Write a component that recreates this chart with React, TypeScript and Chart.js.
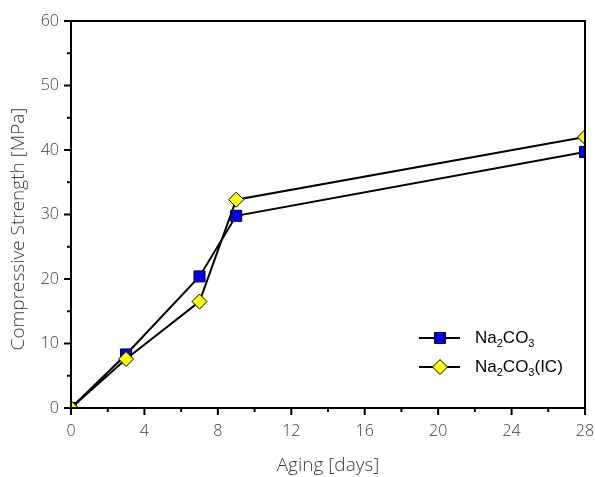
import React, { useEffect, useRef } from "react";
import { Chart, registerables } from "chart.js";

Chart.register(...registerables);

const days = [0, 3, 7, 9, 28];
const na2co3 = [0, 8.3, 20.4, 29.8, 39.7];
const na2co3IC = [0, 7.6, 16.5, 32.3, 42.0];
const xTicks = [0, 4, 8, 12, 16, 20, 24, 28];
const yTicks = [0, 10, 20, 30, 40, 50, 60];
const seriesNames = ["Na2CO3", "Na2CO3(IC)"];
const xTitle = "Aging [days]";
const yTitle = "Compressive Strength [MPa]";

const GRAY = "#3c3c3c";
const TICK_FONT = "'Open Sans', 'DejaVu Sans', sans-serif";

const framePlugin = {
  id: "frame",
  afterDraw(chart: any) {
    const { ctx, chartArea } = chart;
    const { left, right, top, bottom } = chartArea;
    const xs = chart.scales.x;
    const ys = chart.scales.y;
    ctx.save();
    ctx.strokeStyle = "#000";
    ctx.lineWidth = 2;
    ctx.beginPath();
    ctx.rect(left, top, right - left, bottom - top);
    ctx.stroke();
    for (let v = 0; v <= 28; v += 2) {
      const px = xs.getPixelForValue(v);
      const len = v % 4 === 0 ? 7 : 4;
      ctx.beginPath();
      ctx.moveTo(px, bottom);
      ctx.lineTo(px, bottom + len);
      ctx.stroke();
    }
    for (let v = 0; v <= 60; v += 5) {
      const py = ys.getPixelForValue(v);
      const len = v % 10 === 0 ? 7 : 4;
      ctx.beginPath();
      ctx.moveTo(left, py);
      ctx.lineTo(left - len, py);
      ctx.stroke();
    }
    ctx.fillStyle = GRAY;
    ctx.font = "300 19px " + TICK_FONT;
    ctx.textAlign = "center";
    ctx.textBaseline = "middle";
    ctx.fillText(xTitle, (left + right) / 2, 466);
    ctx.translate(19, 229);
    ctx.rotate(-Math.PI / 2);
    ctx.fillText(yTitle, 0, 0);
    ctx.restore();
  },
};

function drawChem(ctx: CanvasRenderingContext2D, x: number, y: number, parts: [string, boolean][]) {
  let cx = x;
  for (const [t, sub] of parts) {
    ctx.font = sub ? "11px 'Liberation Sans', Arial, sans-serif" : "17px 'Liberation Sans', Arial, sans-serif";
    ctx.fillText(t, cx, sub ? y + 6 : y);
    cx += ctx.measureText(t).width;
  }
}

const legendPlugin = {
  id: "customLegend",
  afterDraw(chart: any) {
    const { ctx } = chart;
    ctx.save();
    const rows = [
      { y: 338, ds: chart.data.datasets[0], parts: [["Na", false], ["2", true], ["CO", false], ["3", true]] },
      { y: 367, ds: chart.data.datasets[1], parts: [["Na", false], ["2", true], ["CO", false], ["3", true], ["(IC)", false]] },
    ];
    for (const r of rows) {
      ctx.strokeStyle = "#000";
      ctx.lineWidth = 2;
      ctx.beginPath();
      ctx.moveTo(419, r.y);
      ctx.lineTo(460, r.y);
      ctx.stroke();
      ctx.fillStyle = r.ds.pointBackgroundColor;
      ctx.strokeStyle = "#000";
      ctx.lineWidth = 1;
      if (r.ds.pointStyle === "rect") {
        ctx.beginPath();
        ctx.rect(440 - 5.5, r.y - 5.5, 11, 11);
        ctx.fill();
        ctx.stroke();
      } else {
        ctx.beginPath();
        ctx.moveTo(440, r.y - 7.5);
        ctx.lineTo(447.5, r.y);
        ctx.lineTo(440, r.y + 7.5);
        ctx.lineTo(432.5, r.y);
        ctx.closePath();
        ctx.fill();
        ctx.stroke();
      }
      ctx.fillStyle = "#000";
      ctx.textBaseline = "middle";
      drawChem(ctx, 475, r.y, r.parts as [string, boolean][]);
    }
    ctx.restore();
  },
};

export default function App() {
  const ref = useRef<HTMLCanvasElement>(null);
  useEffect(() => {
    document.body.style.margin = "0";
    const chart = new Chart(ref.current!, {
      type: "line",
      data: {
        datasets: [
          {
            label: seriesNames[0],
            data: days.map((d, i) => ({ x: d, y: na2co3[i] })),
            order: 1,
            borderColor: "#000",
            borderWidth: 2,
            pointStyle: "rect",
            pointRadius: 7.8,
            pointBackgroundColor: "#0000ff",
            pointBorderColor: "#000",
            pointBorderWidth: 1,
          },
          {
            label: seriesNames[1],
            data: days.map((d, i) => ({ x: d, y: na2co3IC[i] })),
            order: 0,
            borderColor: "#000",
            borderWidth: 2,
            pointStyle: "rectRot",
            pointRadius: 7.5,
            pointBackgroundColor: "#ffff00",
            pointBorderColor: "#000",
            pointBorderWidth: 1,
          },
        ],
      },
      options: {
        responsive: false,
        animation: false,
        layout: { padding: { top: 21, right: 10, left: 0, bottom: 0 } },
        plugins: { legend: { display: false }, tooltip: { enabled: false } },
        scales: {
          x: {
            type: "linear",
            min: 0,
            max: 28,
            afterBuildTicks: (s: any) => {
              s.ticks = xTicks.map((v) => ({ value: v }));
            },
            afterFit: (s: any) => {
              s.height = 69;
              s.paddingLeft = 0;
              s.paddingRight = 0;
            },
            grid: { display: false, drawTicks: false },
            border: { display: false },
            ticks: { color: GRAY, font: { family: TICK_FONT, size: 16, weight: 300 }, padding: 14, maxRotation: 0 },
            title: { display: false },
          },
          y: {
            type: "linear",
            min: 0,
            max: 60,
            afterBuildTicks: (s: any) => {
              s.ticks = yTicks.map((v) => ({ value: v }));
            },
            afterFit: (s: any) => {
              s.width = 71;
              s.paddingTop = 0;
              s.paddingBottom = 0;
            },
            grid: { display: false, drawTicks: false },
            border: { display: false },
            ticks: { color: GRAY, font: { family: TICK_FONT, size: 16, weight: 300 }, padding: 12 },
            title: { display: false },
          },
        },
      },
      plugins: [framePlugin, legendPlugin],
    } as any);
    return () => chart.destroy();
  }, []);
  return <canvas ref={ref} width={595} height={477} style={{ display: "block" }} />;
}
